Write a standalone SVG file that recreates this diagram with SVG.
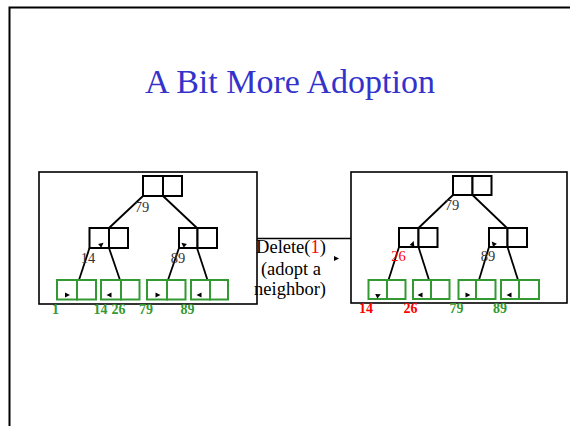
<svg xmlns="http://www.w3.org/2000/svg" width="570" height="426" viewBox="0 0 570 426">
  <style>
    .frame { fill: none; stroke: #000; stroke-width: 2; }
    .panel { fill: none; stroke: #000; stroke-width: 1.6; }
    .inode { fill: #fff; stroke: #000; stroke-width: 2; }
    .leaf { fill: #fff; stroke: #339933; stroke-width: 2; }
    .edge { fill: none; stroke: #000; stroke-width: 1.8; }
    .tip { fill: #000; }
    .title { font-family: "Liberation Serif", "Times New Roman", serif; font-size: 34px; fill: #3333cc; }
    .key { font-family: "Liberation Serif", "Times New Roman", serif; font-size: 14.5px; fill: #333; }
    .lkey { font-family: "Liberation Serif", "Times New Roman", serif; font-size: 14px; font-weight: bold; fill: #339933; }
    .red { fill: #ff0000; }
    .op { font-family: "Liberation Serif", "Times New Roman", serif; font-size: 18.5px; fill: #000; }
  </style>
  <defs>
    <path id="tipR" d="M-3,-2.5 L2,0 L-3,2.5 Z" class="tip"/>
    <path id="tipL" d="M3,-2.5 L-2,0 L3,2.5 Z" class="tip"/>
  </defs>

  <rect width="570" height="426" fill="#fff"/>
  <!-- slide frame -->
  <path class="frame" d="M9.5,426 L9.5,7.5 L570,7.5"/>

  <text class="title" x="290" y="93" text-anchor="middle">A Bit More Adoption</text>

  <!-- panels -->
  <rect id="panel-before" class="panel" x="39" y="172" width="218" height="132"/>
  <rect id="panel-after" class="panel" x="351" y="172" width="216" height="131"/>

  <!-- tree edges and pointer tips -->
  <g id="connectors">
    <line class="edge" x1="143" y1="196" x2="109" y2="228"/>
    <line class="edge" x1="163" y1="196" x2="197" y2="228"/>
    <line class="edge" x1="89.5" y1="248" x2="79" y2="280"/>
    <line class="edge" x1="109" y1="248" x2="120" y2="280"/>
    <line class="edge" x1="179" y1="248" x2="168" y2="280"/>
    <line class="edge" x1="197" y1="248" x2="207.5" y2="280"/>

    <line class="edge" x1="453" y1="195" x2="418.5" y2="228"/>
    <line class="edge" x1="472.5" y1="195" x2="507" y2="228"/>
    <line class="edge" x1="399" y1="247" x2="388.5" y2="280"/>
    <line class="edge" x1="418.5" y1="247" x2="429" y2="280"/>
    <line class="edge" x1="489" y1="247" x2="479" y2="280"/>
    <line class="edge" x1="507.5" y1="247" x2="518" y2="280"/>

    <!-- link between the two panels -->
    <line class="edge" x1="257" y1="238.5" x2="351" y2="238.5" style="stroke-width:1.4"/>
  </g>

  <!-- before: internal nodes -->
  <g id="b-root">
    <rect class="inode" x="143" y="176" width="20" height="20"/>
    <rect class="inode" x="163" y="176" width="19" height="20"/>
    <text class="key" x="142" y="212" text-anchor="middle">79</text>
  </g>
  <g id="b-left">
    <rect class="inode" x="89.5" y="228" width="19.5" height="20"/>
    <rect class="inode" x="109" y="228" width="19" height="20"/>
    <text class="key" x="88" y="263" text-anchor="middle">14</text>
    <use href="#tipR" transform="translate(102,244) rotate(-40)"/>
  </g>
  <g id="b-right">
    <rect class="inode" x="179" y="228" width="18.5" height="20"/>
    <rect class="inode" x="197.5" y="228" width="19.5" height="20"/>
    <text class="key" x="178" y="263" text-anchor="middle">89</text>
    <use href="#tipL" transform="translate(183,244) rotate(40)"/>
  </g>

  <!-- before: leaves -->
  <g id="b-leaf1">
    <rect class="leaf" x="57" y="280" width="20" height="19.5"/>
    <rect class="leaf" x="77" y="280" width="19" height="19.5"/>
    <use href="#tipR" x="68" y="295"/>
    <text class="lkey" x="55.5" y="314" text-anchor="middle">1</text>
  </g>
  <g id="b-leaf2">
    <rect class="leaf" x="101" y="280" width="20" height="19.5"/>
    <rect class="leaf" x="121" y="280" width="18.5" height="19.5"/>
    <use href="#tipL" x="108.5" y="295"/>
    <text class="lkey" x="100.5" y="314" text-anchor="middle">14</text>
    <text class="lkey" x="118.5" y="314" text-anchor="middle">26</text>
  </g>
  <g id="b-leaf3">
    <rect class="leaf" x="147" y="280" width="20" height="19.5"/>
    <rect class="leaf" x="167" y="280" width="18.5" height="19.5"/>
    <use href="#tipR" x="158.5" y="295"/>
    <text class="lkey" x="146" y="314" text-anchor="middle">79</text>
  </g>
  <g id="b-leaf4">
    <rect class="leaf" x="191" y="280" width="19" height="19.5"/>
    <rect class="leaf" x="210" y="280" width="18" height="19.5"/>
    <use href="#tipL" x="198.5" y="295"/>
    <text class="lkey" x="187.5" y="314" text-anchor="middle">89</text>
  </g>

  <!-- operation label -->
  <g id="op">
    <text class="op" x="291" y="253" text-anchor="middle">Delete(<tspan class="red">1</tspan>)</text>
    <text class="op" x="291" y="275" text-anchor="middle">(adopt a</text>
    <text class="op" x="290" y="295" text-anchor="middle">neighbor)</text>
    <use href="#tipR" x="337" y="258.5"/>
  </g>

  <!-- after: internal nodes -->
  <g id="a-root">
    <rect class="inode" x="453" y="176" width="19.5" height="19"/>
    <rect class="inode" x="472.5" y="176" width="19" height="19"/>
    <text class="key" x="452" y="210" text-anchor="middle">79</text>
  </g>
  <g id="a-left">
    <rect class="inode" x="399" y="228" width="19.5" height="19"/>
    <rect class="inode" x="418.5" y="228" width="19" height="19"/>
    <text class="key red" x="398.5" y="261" text-anchor="middle">26</text>
    <use href="#tipR" transform="translate(413,243) rotate(-70)"/>
  </g>
  <g id="a-right">
    <rect class="inode" x="489" y="228" width="18.5" height="19"/>
    <rect class="inode" x="507.5" y="228" width="19.5" height="19"/>
    <text class="key" x="488" y="261" text-anchor="middle">89</text>
    <use href="#tipL" transform="translate(493,243) rotate(50)"/>
  </g>

  <!-- after: leaves -->
  <g id="a-leaf1">
    <rect class="leaf" x="368.5" y="280" width="18.5" height="19"/>
    <rect class="leaf" x="387" y="280" width="18.5" height="19"/>
    <use href="#tipR" transform="translate(379,295) rotate(-25)"/>
    <text class="lkey red" x="366" y="312.5" text-anchor="middle">14</text>
  </g>
  <g id="a-leaf2">
    <rect class="leaf" x="413" y="280" width="18" height="19"/>
    <rect class="leaf" x="431" y="280" width="18.5" height="19"/>
    <use href="#tipL" x="419.5" y="295"/>
    <text class="lkey red" x="410.5" y="312.5" text-anchor="middle">26</text>
  </g>
  <g id="a-leaf3">
    <rect class="leaf" x="458.5" y="280" width="17.5" height="19"/>
    <rect class="leaf" x="476" y="280" width="19.5" height="19"/>
    <use href="#tipR" x="468.5" y="295"/>
    <text class="lkey" x="456.5" y="312.5" text-anchor="middle">79</text>
  </g>
  <g id="a-leaf4">
    <rect class="leaf" x="501" y="280" width="18" height="19"/>
    <rect class="leaf" x="519" y="280" width="20" height="19"/>
    <use href="#tipL" x="508.5" y="295"/>
    <text class="lkey" x="500" y="312.5" text-anchor="middle">89</text>
  </g>
</svg>
